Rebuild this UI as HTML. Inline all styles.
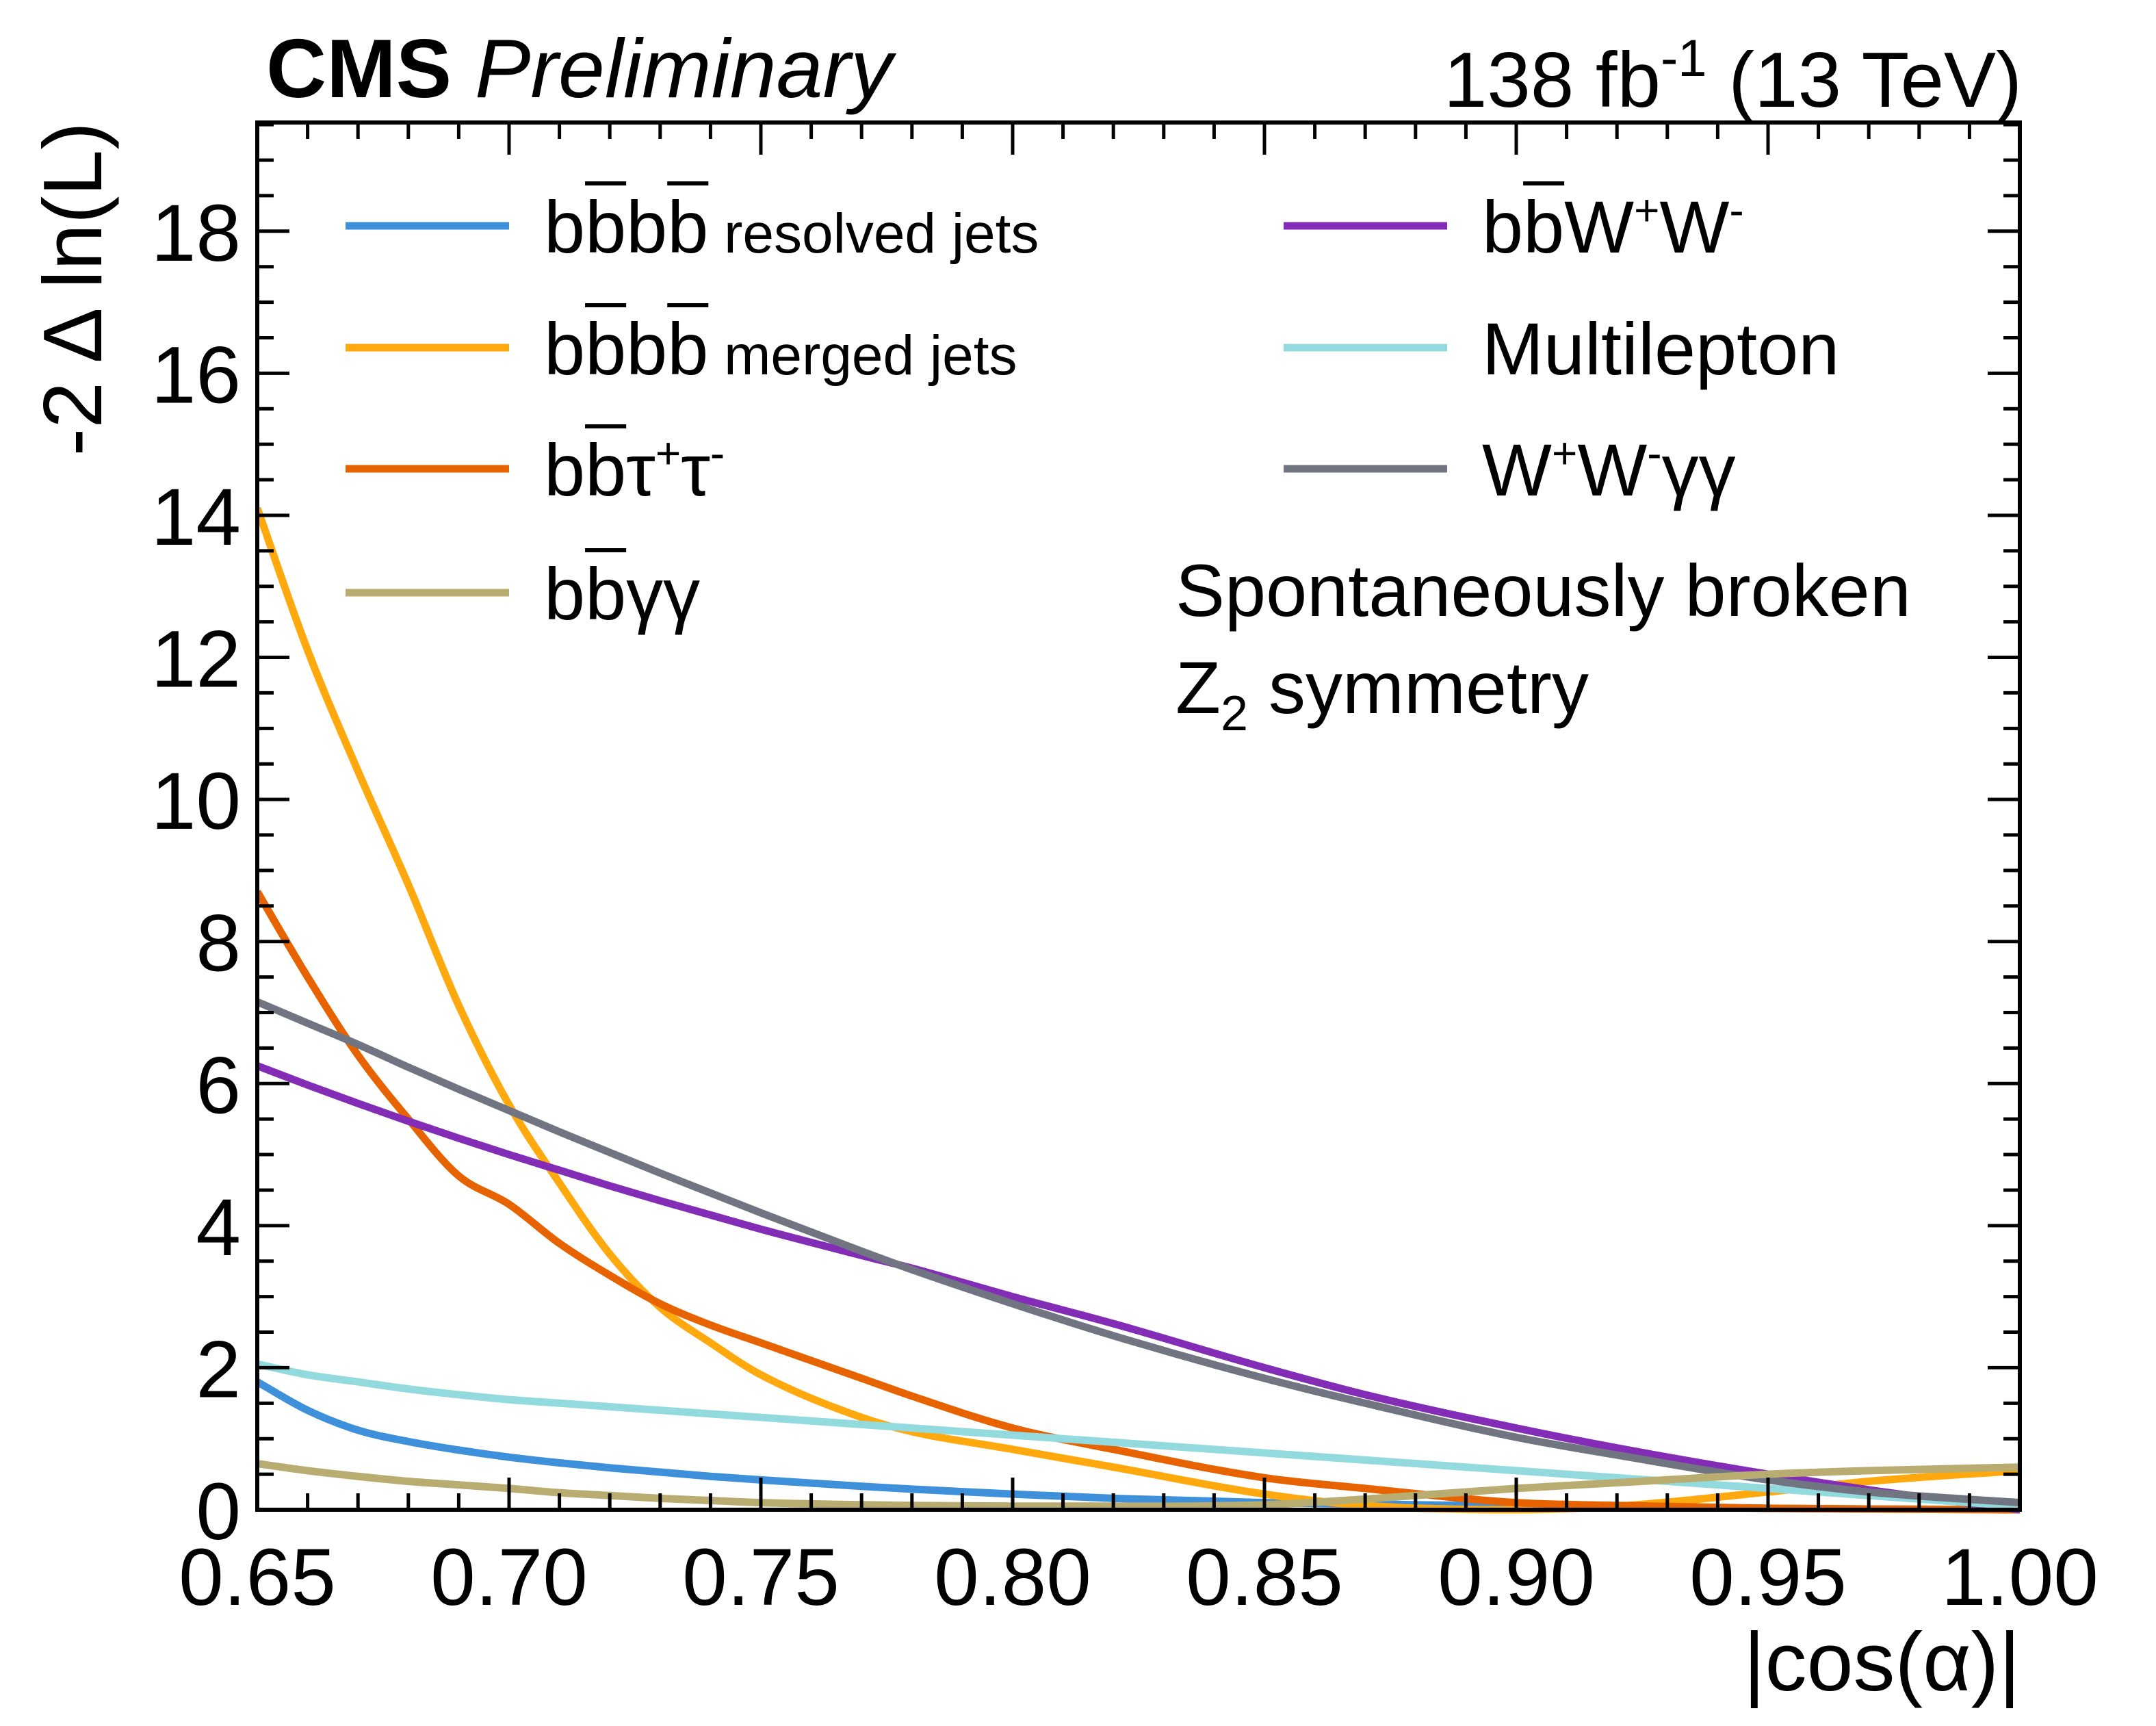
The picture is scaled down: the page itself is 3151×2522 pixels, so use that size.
<!DOCTYPE html>
<html><head><meta charset="utf-8"><style>
html,body{margin:0;padding:0;background:#fff}
body{position:relative;width:3151px;height:2522px;overflow:hidden}
svg{display:block;font-family:"Liberation Sans",sans-serif}
.lt{position:absolute;font-family:"Liberation Sans",sans-serif;font-size:108px;line-height:1;white-space:nowrap;color:#000}
.ob{text-decoration:overline;text-decoration-thickness:6px;text-underline-offset:0}
.sm{font-size:82px}
sup{font-size:64px;vertical-align:0;position:relative;top:-40px}
</style></head><body>
<svg id="chart" width="3151" height="2522" viewBox="0 0 3151 2522" xmlns="http://www.w3.org/2000/svg">
<g id="curves"></g>
<g id="axes"></g>
<text x="389" y="142" font-size="122" font-weight="bold">CMS <tspan font-weight="normal" font-style="italic">Preliminary</tspan></text>
<text x="2955" y="156" font-size="114" text-anchor="end">138 fb<tspan dy="-45" font-size="76">-1</tspan><tspan dy="45"> (13 TeV)</tspan></text>
<text transform="translate(148,178) rotate(-90)" font-size="122" text-anchor="end">-2 Δ ln(L)</text>
<text x="2953" y="2470" font-size="122" text-anchor="end">|cos(α)|</text>
<g id="legend"></g>
<text x="1718" y="900" font-size="108">Spontaneously broken</text>
<text x="1718" y="1042" font-size="108">Z<tspan dy="25" font-size="72">2</tspan><tspan dy="-25"> symmetry</tspan></text>
</svg>
<div class="lt" style="left:795px;top:278px">b<span class="ob">b</span>b<span class="ob">b</span><span class="sm"> resolved jets</span></div>
<div class="lt" style="left:795px;top:456px">b<span class="ob">b</span>b<span class="ob">b</span><span class="sm"> merged jets</span></div>
<div class="lt" style="left:795px;top:633px">b<span class="ob">b</span>τ<sup>+</sup>τ<sup>-</sup></div>
<div class="lt" style="left:795px;top:814px">b<span class="ob">b</span>γγ</div>
<div class="lt" style="left:2166px;top:278px">b<span class="ob">b</span>W<sup>+</sup>W<sup>-</sup></div>
<div class="lt" style="left:2166px;top:456px">Multilepton</div>
<div class="lt" style="left:2166px;top:633px">W<sup>+</sup>W<sup>-</sup>γγ</div>
<script>
const NS="http://www.w3.org/2000/svg";
const xTicks=[0.65,0.70,0.75,0.80,0.85,0.90,0.95,1.00];
const xTickLabels=["0.65","0.70","0.75","0.80","0.85","0.90","0.95","1.00"];
const yTicks=[0,2,4,6,8,10,12,14,16,18];
const xs=[0.65,0.66,0.67,0.68,0.69,0.70,0.71,0.72,0.73,0.74,0.75,0.77,0.78,0.80,0.82,0.85,0.87,0.90,0.92,0.95,0.97,1.00];
const resolved=[1.8,1.4,1.12,0.96,0.84,0.74,0.66,0.59,0.53,0.47,0.42,0.33,0.29,0.22,0.16,0.1,0.08,0.05,0.04,0.02,0.01,0.0];
const merged=[14.1,12.1,10.4,8.8,7.1,5.7,4.6,3.6,2.85,2.35,1.9,1.3,1.1,0.85,0.6,0.22,0.06,0.0,0.05,0.25,0.4,0.55];
const tautau=[8.7,7.5,6.4,5.5,4.7,4.3,3.75,3.3,2.9,2.6,2.35,1.85,1.6,1.15,0.85,0.45,0.3,0.1,0.06,0.02,0.01,0.0];
const bbgg=[0.65,0.55,0.47,0.4,0.35,0.3,0.24,0.2,0.16,0.13,0.1,0.07,0.06,0.05,0.05,0.07,0.15,0.3,0.38,0.5,0.55,0.6];
const bbww=[6.25,5.98,5.72,5.47,5.23,5.0,4.78,4.56,4.35,4.15,3.95,3.58,3.4,3.0,2.62,2.0,1.62,1.15,0.87,0.5,0.28,0.0];
const multilep=[2.05,1.9,1.8,1.7,1.62,1.55,1.5,1.45,1.4,1.35,1.3,1.2,1.15,1.05,0.95,0.8,0.7,0.55,0.45,0.3,0.2,0.05];
const wwgg=[7.15,6.85,6.55,6.23,5.92,5.62,5.32,5.03,4.74,4.46,4.18,3.64,3.38,2.9,2.45,1.85,1.5,1.02,0.77,0.42,0.25,0.1];
const X0=376,X1=2952,Y0=2206,YTOP=179,YMAX=19.53;
function sx(v){return X0+(v-0.65)/(1.0-0.65)*(X1-X0);}
function sy(v){return Y0-v/YMAX*(Y0-YTOP);}
const series=[
 {n:"bbbb-resolved-curve",c:"#3f90da",d:resolved},
 {n:"bbbb-merged-curve",c:"#ffa90e",d:merged},
 {n:"bbtautau-curve",c:"#e76300",d:tautau},
 {n:"bbww-curve",c:"#832db6",d:bbww},
 {n:"multilepton-curve",c:"#92dadd",d:multilep},
 {n:"wwgg-curve",c:"#717581",d:wwgg},
 {n:"bbgg-curve",c:"#b9ac70",d:bbgg}];
const cg=document.getElementById("curves");
const clip=document.createElementNS(NS,"clipPath");clip.setAttribute("id","pc");
const cr=document.createElementNS(NS,"rect");cr.setAttribute("x",X0);cr.setAttribute("y",YTOP);cr.setAttribute("width",X1-X0);cr.setAttribute("height",Y0-YTOP+6);
clip.appendChild(cr);cg.appendChild(clip);
function monotone(pts){const n=pts.length,d=[],m=[];
 for(let i=0;i<n-1;i++)d.push((pts[i+1][1]-pts[i][1])/(pts[i+1][0]-pts[i][0]));
 m[0]=d[0];m[n-1]=d[n-2];
 for(let i=1;i<n-1;i++)m[i]=(d[i-1]*d[i]<=0)?0:(d[i-1]+d[i])/2;
 let s="M"+pts[0][0]+","+pts[0][1];
 for(let i=0;i<n-1;i++){const h=pts[i+1][0]-pts[i][0];
 s+=" C"+(pts[i][0]+h/3)+","+(pts[i][1]+m[i]*h/3)+" "+(pts[i+1][0]-h/3)+","+(pts[i+1][1]-m[i+1]*h/3)+" "+pts[i+1][0]+","+pts[i+1][1];}
 return s;}
series.forEach(s=>{
 const p=document.createElementNS(NS,"path");
 p.setAttribute("d",monotone(xs.map((x,i)=>[sx(x),sy(s.d[i])])));
 p.setAttribute("fill","none");p.setAttribute("stroke",s.c);p.setAttribute("stroke-width","11");
 p.setAttribute("clip-path","url(#pc)");
 
 
 cg.appendChild(p);});
const ag=document.getElementById("axes");
function line(x1,y1,x2,y2,w,name){const l=document.createElementNS(NS,"line");
 l.setAttribute("x1",x1);l.setAttribute("y1",y1);l.setAttribute("x2",x2);l.setAttribute("y2",y2);
 l.setAttribute("stroke","#000");l.setAttribute("stroke-width",w);
 
 
 ag.appendChild(l);}
const fr=document.createElementNS(NS,"rect");
fr.setAttribute("x",X0);fr.setAttribute("y",YTOP);fr.setAttribute("width",X1-X0);fr.setAttribute("height",Y0-YTOP);
fr.setAttribute("fill","none");fr.setAttribute("stroke","#000");fr.setAttribute("stroke-width","6");


ag.appendChild(fr);
for(let k=0;k<=35;k++){const v=0.65+k*0.01;const x=sx(v);const L=(k%5===0)?47:24;
 line(x,Y0,x,Y0-L,5,"x-tick");line(x,YTOP,x,YTOP+L,5,"x-tick-top");}
for(let k=0;k<=39;k++){const v=k*0.5;const y=sy(v);const L=(k%4===0)?47:24;
 line(X0,y,X0+L,y,5,"y-tick");line(X1,y,X1-L,y,5,"y-tick-right");}
xTicks.forEach((v,i)=>{const t=document.createElementNS(NS,"text");
 t.setAttribute("x",sx(v));t.setAttribute("y",2345);t.setAttribute("font-size","118");t.setAttribute("text-anchor","middle");
 t.textContent=xTickLabels[i];
 
 
 ag.appendChild(t);});
yTicks.forEach(v=>{const t=document.createElementNS(NS,"text");
 t.setAttribute("x",352);t.setAttribute("y",sy(v)+43);t.setAttribute("font-size","118");t.setAttribute("text-anchor","end");
 t.textContent=String(v);
 
 
 ag.appendChild(t);});
const lg=document.getElementById("legend");
const entries=[
 {x:505,y:330,c:"#3f90da",n:"legend-line-bbbb-resolved"},
 {x:505,y:508,c:"#ffa90e",n:"legend-line-bbbb-merged"},
 {x:505,y:685,c:"#e76300",n:"legend-line-bbtautau"},
 {x:505,y:866,c:"#b9ac70",n:"legend-line-bbgg"},
 {x:1876,y:330,c:"#832db6",n:"legend-line-bbww"},
 {x:1876,y:508,c:"#92dadd",n:"legend-line-multilepton"},
 {x:1876,y:685,c:"#717581",n:"legend-line-wwgg"}];
entries.forEach(e=>{
 const l=document.createElementNS(NS,"line");
 l.setAttribute("x1",e.x);l.setAttribute("x2",e.x+239);l.setAttribute("y1",e.y);l.setAttribute("y2",e.y);
 l.setAttribute("stroke",e.c);l.setAttribute("stroke-width","11");
 
 
 lg.appendChild(l);});
</script>
</body></html>
